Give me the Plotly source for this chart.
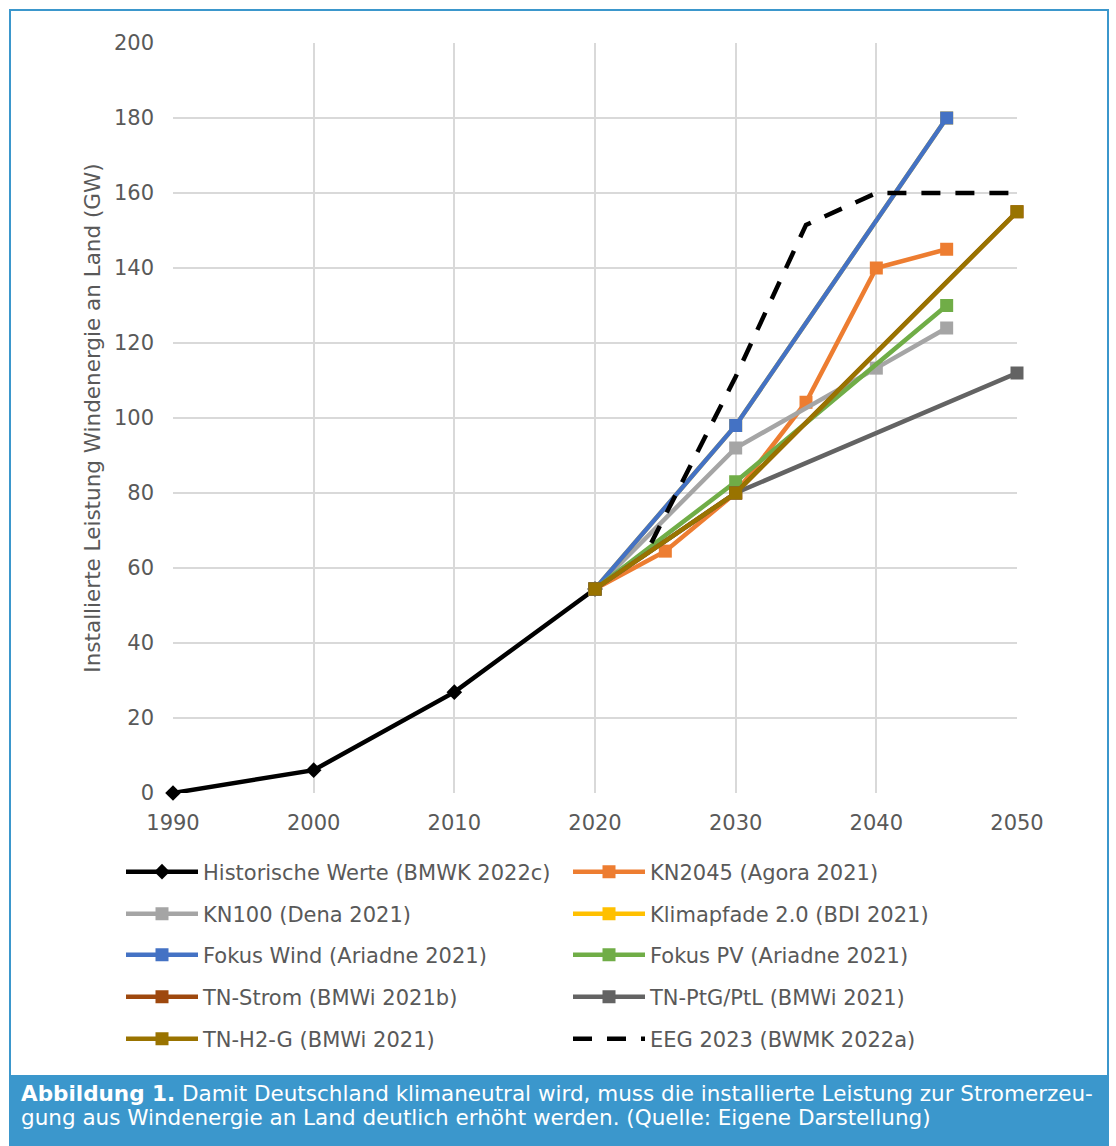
import plotly.graph_objects as go

# ---------------- data ----------------
hist_years = [1990, 2000, 2010, 2020]
hist_vals = [0, 6.1, 26.9, 54.4]

kn2045_years = [2020, 2025, 2030, 2035, 2040, 2045]
kn2045_vals = [54.4, 64.5, 80, 104.2, 140, 145]

kn100_years = [2020, 2030, 2040, 2045]
kn100_vals = [54.4, 92, 113.3, 124]

klimapfade_years = [2020, 2030, 2045]
klimapfade_vals = [54.4, 98, 180]

fokuswind_years = [2020, 2030, 2045]
fokuswind_vals = [54.4, 98, 180]

fokuspv_years = [2020, 2030, 2045]
fokuspv_vals = [54.4, 83, 130]

tnstrom_years = [2020, 2030, 2050]
tnstrom_vals = [54.4, 80, 155]

tnptg_years = [2020, 2030, 2050]
tnptg_vals = [54.4, 80, 112]

tnh2_years = [2020, 2030, 2050]
tnh2_vals = [54.4, 80, 155]

eeg_years = [2024, 2030, 2035, 2040, 2045, 2050]
eeg_vals = [66.7, 111, 151.5, 160, 160, 160]

x_ticks = [1990, 2000, 2010, 2020, 2030, 2040, 2050]
y_ticks = [0, 20, 40, 60, 80, 100, 120, 140, 160, 180, 200]

names = [
    "Historische Werte (BMWK 2022c)", "KN2045 (Agora 2021)",
    "KN100 (Dena 2021)", "Klimapfade 2.0 (BDI 2021)",
    "Fokus Wind (Ariadne 2021)", "Fokus PV (Ariadne 2021)",
    "TN-Strom (BMWi 2021b)", "TN-PtG/PtL (BMWi 2021)",
    "TN-H2-G (BMWi 2021)", "EEG 2023 (BWMK 2022a)",
]
caption_lines = [
    "<b>Abbildung 1.</b> Damit Deutschland klimaneutral wird, muss die installierte Leistung zur Stromerzeu-",
    "gung aus Windenergie an Land deutlich erhöht werden. (Quelle: Eigene Darstellung)",
]
y_title = "Installierte Leistung Windenergie an Land (GW)"

# ---------------- styling ----------------
FONT = "DejaVu Sans"
GREY_TXT = "#595959"
BLUE_FRAME = "#3b97cc"
W, H = 1116, 1146
L, R, T, B = 173, 99, 43, 353
PW, PH = W - L - R, H - T - B
LW = 4.5

series = [
    (hist_years, hist_vals, "#000000", "diamond", 12, "legend"),
    (kn2045_years, kn2045_vals, "#ED7D31", "square", 13, "legend"),
    (kn100_years, kn100_vals, "#A5A5A5", "square", 13, "legend2"),
    (klimapfade_years, klimapfade_vals, "#FFC000", "square", 13, "legend2"),
    (fokuswind_years, fokuswind_vals, "#4472C4", "square", 13, "legend3"),
    (fokuspv_years, fokuspv_vals, "#70AD47", "square", 13, "legend3"),
    (tnstrom_years, tnstrom_vals, "#9E480E", "square", 13, "legend4"),
    (tnptg_years, tnptg_vals, "#636363", "square", 13, "legend4"),
    (tnh2_years, tnh2_vals, "#997300", "square", 13, "legend5"),
]

fig = go.Figure()
for (xs, ys, col, sym, msz, lg), nm in zip(series, names):
    fig.add_trace(go.Scatter(
        x=xs, y=ys, name=nm, mode="lines+markers",
        line=dict(color=col, width=LW),
        marker=dict(symbol=sym, size=msz, color=col),
        legend=lg, cliponaxis=False,
    ))
fig.add_trace(go.Scatter(
    x=eeg_years, y=eeg_vals, name=names[9], mode="lines",
    line=dict(color="#000000", width=LW, dash="19px,15px"),
    legend="legend5", cliponaxis=False,
))

def px_x(px):
    return (px - L) / PW

def px_y(py):
    return (H - B - py) / PH

ITEMW = 72
legend_common = dict(
    orientation="h", entrywidth=442 - (ITEMW + 10), entrywidthmode="pixels", itemwidth=ITEMW,
    x=px_x(121), xanchor="left", yanchor="middle",
    font=dict(family=FONT, size=21, color=GREY_TXT),
    bgcolor="rgba(0,0,0,0)", traceorder="normal",
)
rows = [872, 914, 955, 997, 1039]
layout_legends = {}
for i, py in enumerate(rows):
    key = "legend" if i == 0 else f"legend{i+1}"
    layout_legends[key] = dict(legend_common, y=px_y(py))

caption_y = [1093, 1117]
annotations = [
    dict(text=txt, xref="paper", yref="paper", x=px_x(19), y=px_y(cy),
         xanchor="left", yanchor="middle", align="left", showarrow=False,
         font=dict(family=FONT, size=21.5, color="white"))
    for txt, cy in zip(caption_lines, caption_y)
]

fig.update_layout(
    width=W, height=H,
    margin=dict(l=L, r=R, t=T, b=B, autoexpand=False),
    paper_bgcolor="white", plot_bgcolor="white",
    font=dict(family=FONT, size=21, color=GREY_TXT),
    showlegend=True,
    **layout_legends,
    xaxis=dict(
        range=[1990, 2050], tickvals=x_ticks, ticktext=[str(v) for v in x_ticks],
        showgrid=True, gridcolor="#d9d9d9", gridwidth=2, zeroline=False,
        showline=False, ticks="", ticklabelstandoff=15,
        tickfont=dict(family=FONT, size=21, color=GREY_TXT),
    ),
    yaxis=dict(
        range=[0, 200], tickvals=y_ticks,
        showgrid=True, gridcolor="#d9d9d9", gridwidth=2, zeroline=False,
        showline=False, ticks="", ticklabelstandoff=18,
        tickfont=dict(family=FONT, size=21, color=GREY_TXT),
        title=dict(text=y_title, font=dict(family=FONT, size=21.5, color=GREY_TXT), standoff=7),
    ),
    shapes=[
        dict(type="rect", xref="paper", yref="paper",
             x0=px_x(10), x1=px_x(1108), y0=px_y(1146), y1=px_y(10),
             line=dict(color=BLUE_FRAME, width=2), fillcolor="rgba(0,0,0,0)", layer="below"),
        dict(type="rect", xref="paper", yref="paper",
             x0=px_x(10), x1=px_x(1109), y0=px_y(1146), y1=px_y(1075),
             line=dict(width=0), fillcolor=BLUE_FRAME, layer="below"),
    ],
    annotations=annotations,
)

fig.write_html("out.html", config={"displayModeBar": False},
               post_script="document.body.style.margin='0px';")
